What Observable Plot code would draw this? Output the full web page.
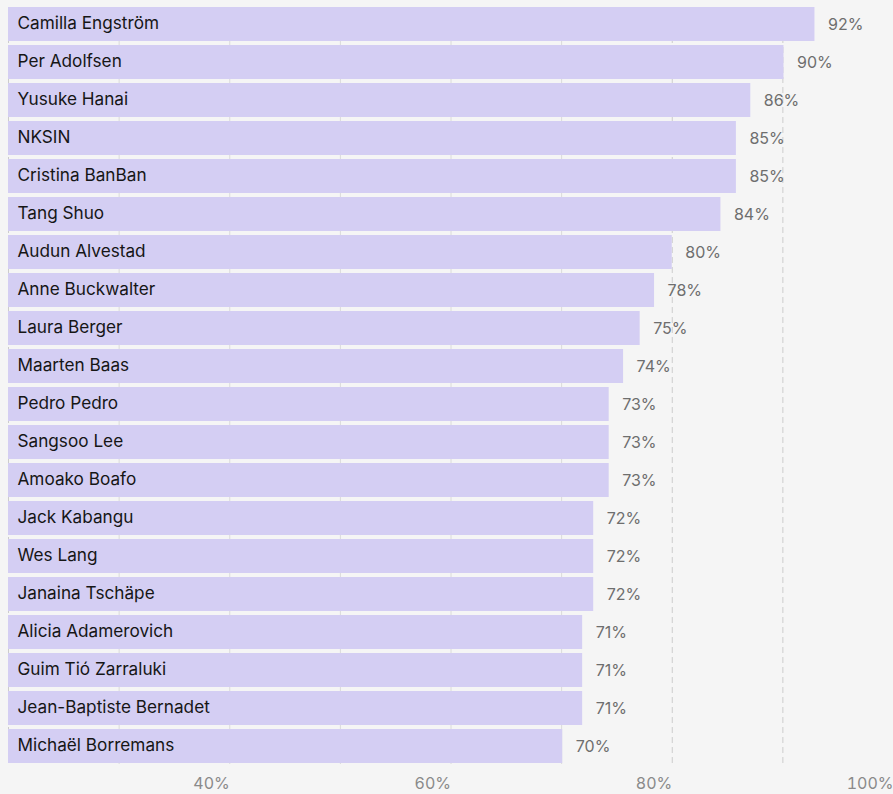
<!DOCTYPE html>
<html><head><meta charset="utf-8">
<script src="https://cdn.jsdelivr.net/npm/d3@7"></script>
<script src="https://cdn.jsdelivr.net/npm/@observablehq/plot@0.6"></script>
<style>html,body{margin:0;padding:0;background:#f5f5f5;}</style>
</head><body><div id="chart"></div>
<script>
const names = ["Camilla Engström","Per Adolfsen","Yusuke Hanai","NKSIN","Cristina BanBan","Tang Shuo","Audun Alvestad","Anne Buckwalter","Laura Berger","Maarten Baas","Pedro Pedro","Sangsoo Lee","Amoako Boafo","Jack Kabangu","Wes Lang","Janaina Tschäpe","Alicia Adamerovich","Guim Tió Zarraluki","Jean-Baptiste Bernadet","Michaël Borremans"];
const scores = [92.9, 90.1, 87.1, 85.8, 85.8, 84.4, 80.0, 78.4, 77.1, 75.6, 74.3, 74.3, 74.3, 72.9, 72.9, 72.9, 71.9, 71.9, 71.9, 70.1];
const shownPct = [92, 90, 86, 85, 85, 84, 80, 78, 75, 74, 73, 73, 73, 72, 72, 72, 71, 71, 71, 70];
const xTicks = [40, 60, 80, 100];
const solidGrid = [30, 40, 50, 60, 70];
const dashedGrid = [20, 80, 90, 100];

const data = names.map((name, i) => ({name, score: scores[i], label: shownPct[i] + "%"}));

const chart = Plot.plot({
  width: 893, height: 794,
  marginLeft: 8, marginRight: 0, marginTop: 7, marginBottom: 30,
  style: {background: "#f5f5f5", fontFamily: "Inter, sans-serif", fontSize: "16px", overflow: "visible"},
  x: {domain: [20, 100]},
  y: {domain: names, paddingInner: 0.1, paddingOuter: 0, axis: null},
  marks: [
    Plot.ruleX(solidGrid, {stroke: "#dadada", strokeWidth: 1}),
    Plot.ruleX(dashedGrid, {stroke: "#cccccc", strokeWidth: 1, strokeDasharray: "6,4"}),
    Plot.barX(data, {x1: 20, x2: "score", y: "name", fill: "#d4cef3"}),
    Plot.text(data, {x: 20, y: "name", text: "name", textAnchor: "start", dx: 9, dy: -1, fill: "#161616", fontSize: 17.2}),
    Plot.text(data, {x: "score", y: "name", text: "label", textAnchor: "start", dx: 13, fill: "#6e6e6e", fontSize: 16}),
    Plot.axisX(xTicks, {tickSize: 0, tickPadding: 13, textAnchor: "end", color: "#8a8a8a", tickFormat: d => d + "%", fontSize: 16, label: null})
  ]
});
document.getElementById("chart").appendChild(chart);
</script>
</body></html>
